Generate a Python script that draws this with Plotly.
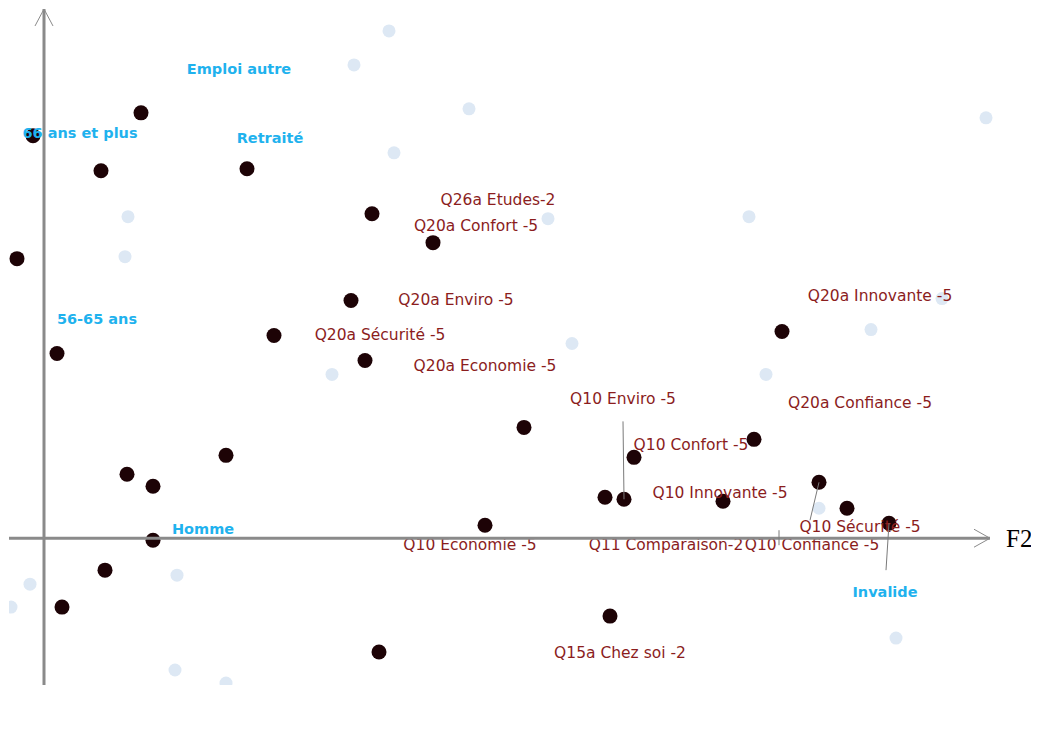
import plotly.graph_objects as go

# coordonnees (F2 horizontal, F1 vertical)
dark_x = [-0.11, 0.97, 0.57, 2.03, -0.27, 3.28, 3.89, 3.07, 2.30, 3.21, 0.13, 4.80,
          1.82, 0.83, 1.09, 5.90, 7.10, 7.38, 5.61, 5.80, 6.79, 7.75, 8.03, 8.45,
          4.41, 1.09, 0.61, 0.18, 5.66, 3.35]
dark_y = [4.03, 4.26, 3.68, 3.70, 2.80, 3.25, 2.96, 2.38, 2.03, 1.78, 1.85, 1.11,
          0.83, 0.64, 0.52, 0.81, 0.99, 2.07, 0.41, 0.39, 0.37, 0.56, 0.30, 0.15,
          0.13, -0.02, -0.32, -0.69, -0.78, -1.14]

light_x = [3.45, 3.10, 4.25, 3.50, 9.42, 0.84, 0.81, 5.04, 7.05, 8.27, 5.28, 2.88,
           7.22, 7.75, -0.14, -0.33, 1.33, 1.31, 1.82, 8.52, 8.98]
light_y = [5.08, 4.74, 4.30, 3.86, 4.21, 3.22, 2.82, 3.20, 3.22, 2.09, 1.95, 1.64,
           1.64, 0.30, -0.46, -0.69, -0.37, -1.32, -1.45, -1.00, 2.40]

blue_labels = ["Emploi autre", "66 ans et plus", "Retraité", "56-65 ans", "Homme", "Invalide"]
blue_x = [1.95, 0.36, 2.26, 0.53, 1.59, 8.41]
blue_y = [4.69, 4.04, 3.99, 2.18, 0.08, -0.55]

red_labels = ["Q26a Etudes-2", "Q20a Confort -5", "Q20a Enviro -5", "Q20a Sécurité -5",
              "Q20a Economie -5", "Q20a Innovante -5", "Q10 Enviro -5", "Q20a Confiance -5",
              "Q10 Confort -5", "Q10 Innovante -5", "Q10 Sécurité -5", "Q11 Comparaison-2",
              "Q10 Confiance -5", "Q10 Economie -5", "Q15a Chez soi -2"]
red_x = [4.54, 4.32, 4.12, 3.36, 4.41, 8.36, 5.79, 8.16, 6.47, 6.76, 8.16, 6.22,
         7.68, 4.26, 5.76]
red_y = [3.38, 3.12, 2.37, 2.02, 1.71, 2.41, 1.38, 1.34, 0.92, 0.44, 0.10, -0.08,
         -0.08, -0.08, -1.16]

# traits de rappel (point -> etiquette)
leaders = [((5.80, 0.39), (5.79, 1.17)), ((7.75, 0.56), (7.66, 0.18)),
           ((8.45, 0.15), (8.42, -0.32)), ((7.35, 0.08), (7.35, -0.07))]

X0, X1 = -0.35, 9.95
Y0, Y1 = -1.47, 5.31

fig = go.Figure()
fig.add_trace(go.Scatter(x=light_x, y=light_y, mode="markers",
                         marker=dict(size=13, color="#dde8f4"), hoverinfo="skip"))
fig.add_trace(go.Scatter(x=dark_x, y=dark_y, mode="markers",
                         marker=dict(size=15, color="#1d0306"), hoverinfo="skip"))
fig.add_trace(go.Scatter(x=red_x, y=red_y, mode="text", text=red_labels,
                         textfont=dict(family="DejaVu Sans", size=15.5, color="#8b1d1d")))
fig.add_trace(go.Scatter(x=blue_x, y=blue_y, mode="text", text=blue_labels,
                         textfont=dict(family="DejaVu Sans", size=14.5, color="#1fb2ee",
                                       weight="bold")))

shapes = []
# axes
shapes.append(dict(type="line", x0=X0, x1=9.46, y0=0, y1=0, line=dict(color="#8a8a8a", width=3)))
shapes.append(dict(type="line", x0=0, x1=0, y0=Y0, y1=5.30, line=dict(color="#8a8a8a", width=3)))
# fleches
shapes.append(dict(type="line", x0=9.30, x1=9.46, y0=0.09, y1=0, line=dict(color="#8a8a8a", width=1)))
shapes.append(dict(type="line", x0=9.30, x1=9.46, y0=-0.09, y1=0, line=dict(color="#8a8a8a", width=1)))
shapes.append(dict(type="line", x0=-0.09, x1=0, y0=5.13, y1=5.30, line=dict(color="#8a8a8a", width=1)))
shapes.append(dict(type="line", x0=0.09, x1=0, y0=5.13, y1=5.30, line=dict(color="#8a8a8a", width=1)))
for (a, b) in leaders:
    shapes.append(dict(type="line", x0=a[0], y0=a[1], x1=b[0], y1=b[1],
                       line=dict(color="#7a7a7a", width=1)))

# la page ajoute 8px de marge autour de la figure
fig.update_layout(
    width=1031, height=725,
    margin=dict(l=1, r=0, t=0, b=48),
    paper_bgcolor="white", plot_bgcolor="white",
    showlegend=False,
    xaxis=dict(range=[X0, X1], visible=False),
    yaxis=dict(range=[Y0, Y1], visible=False),
    shapes=shapes,
    annotations=[
        dict(text="F2", x=9.75, y=0, xref="x", yref="y", showarrow=False,
             font=dict(family="Liberation Serif", size=25, color="black")),
        dict(text="F1", x=0, y=-1.80, xref="x", yref="y", showarrow=False,
             font=dict(family="Liberation Serif", size=25, color="black")),
    ],
)

fig.write_html("out.html")
